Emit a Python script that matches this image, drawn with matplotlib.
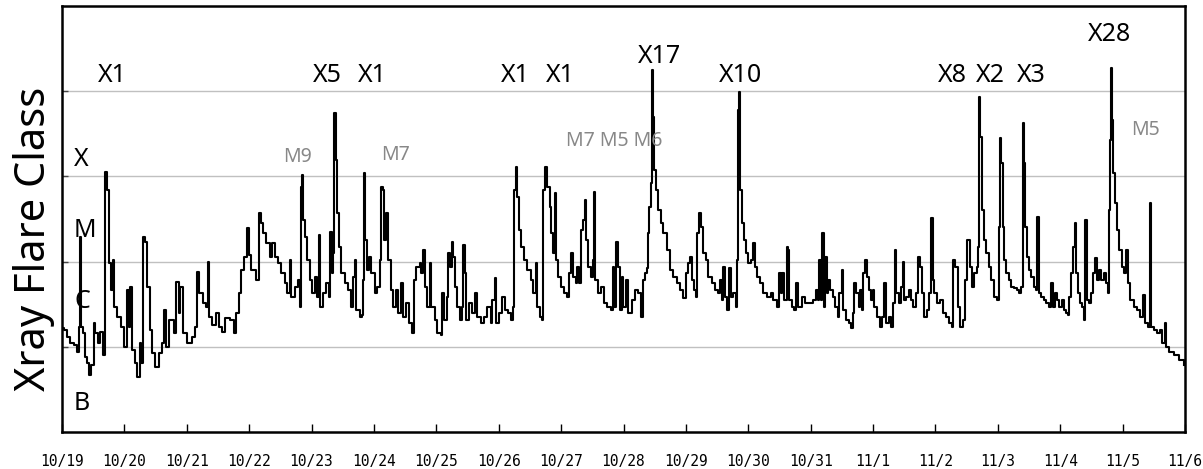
import matplotlib
matplotlib.use("Agg")
import matplotlib.pyplot as plt
import numpy as np

# ---- data: time in days since 10/19 00:00, log10 of X-ray flux (W/m^2) ----
days = [
    0.000, 0.032, 0.080, 0.128, 0.192, 0.240, 0.272, 0.288, 0.304, 0.337,
    0.369, 0.401, 0.433, 0.465, 0.513, 0.529, 0.577, 0.609, 0.657, 0.689,
    0.721, 0.753, 0.785, 0.817, 0.833, 0.881, 0.946, 0.994, 1.042, 1.074,
    1.090, 1.122, 1.170, 1.202, 1.250, 1.266, 1.298, 1.330, 1.362, 1.410,
    1.442, 1.490, 1.554, 1.603, 1.635, 1.667, 1.715, 1.795, 1.827, 1.875,
    1.891, 1.939, 2.003, 2.083, 2.131, 2.163, 2.196, 2.260, 2.308, 2.340,
    2.356, 2.404, 2.468, 2.516, 2.564, 2.612, 2.692, 2.756, 2.788, 2.837,
    2.869, 2.917, 2.965, 2.997, 3.029, 3.061, 3.109, 3.157, 3.189, 3.221,
    3.269, 3.333, 3.365, 3.413, 3.462, 3.510, 3.574, 3.606, 3.654, 3.670,
    3.734, 3.782, 3.814, 3.830, 3.846, 3.862, 3.894, 3.926, 3.974, 4.006,
    4.054, 4.087, 4.119, 4.135, 4.183, 4.231, 4.279, 4.295, 4.327, 4.343,
    4.359, 4.391, 4.407, 4.439, 4.471, 4.535, 4.583, 4.632, 4.664, 4.696,
    4.712, 4.776, 4.808, 4.824, 4.840, 4.856, 4.888, 4.920, 4.952, 5.016,
    5.048, 5.096, 5.112, 5.144, 5.160, 5.192, 5.224, 5.273, 5.305, 5.353,
    5.385, 5.433, 5.465, 5.513, 5.561, 5.609, 5.641, 5.673, 5.737, 5.753,
    5.785, 5.817, 5.849, 5.897, 5.913, 5.978, 6.010, 6.074, 6.090, 6.122,
    6.170, 6.186, 6.218, 6.250, 6.266, 6.298, 6.330, 6.378, 6.410, 6.426,
    6.458, 6.474, 6.522, 6.571, 6.619, 6.651, 6.715, 6.763, 6.811, 6.875,
    6.891, 6.939, 6.955, 7.003, 7.051, 7.099, 7.148, 7.196, 7.228, 7.244,
    7.276, 7.292, 7.324, 7.356, 7.404, 7.452, 7.516, 7.548, 7.596, 7.612,
    7.660, 7.692, 7.708, 7.740, 7.773, 7.821, 7.837, 7.869, 7.901, 7.917,
    7.949, 7.997, 8.045, 8.093, 8.125, 8.157, 8.189, 8.237, 8.253, 8.285,
    8.317, 8.349, 8.381, 8.398, 8.430, 8.478, 8.510, 8.526, 8.542, 8.590,
    8.638, 8.686, 8.734, 8.798, 8.830, 8.846, 8.878, 8.910, 8.942, 8.974,
    8.990, 9.038, 9.071, 9.135, 9.183, 9.231, 9.279, 9.311, 9.343, 9.375,
    9.391, 9.407, 9.439, 9.455, 9.471, 9.487, 9.519, 9.551, 9.600, 9.632,
    9.696, 9.744, 9.792, 9.856, 9.904, 9.952, 10.000, 10.032, 10.064, 10.096,
    10.128, 10.160, 10.176, 10.208, 10.240, 10.272, 10.321, 10.353, 10.417, 10.465,
    10.513, 10.545, 10.577, 10.593, 10.625, 10.657, 10.689, 10.721, 10.753, 10.801,
    10.818, 10.834, 10.850, 10.866, 10.898, 10.930, 10.962, 10.994, 11.042, 11.074,
    11.106, 11.138, 11.186, 11.234, 11.298, 11.362, 11.394, 11.458, 11.491, 11.523,
    11.539, 11.571, 11.619, 11.635, 11.651, 11.699, 11.731, 11.763, 11.795, 11.859,
    11.907, 11.971, 12.036, 12.084, 12.116, 12.132, 12.164, 12.180, 12.212, 12.228,
    12.260, 12.276, 12.308, 12.356, 12.388, 12.436, 12.452, 12.500, 12.516, 12.564,
    12.612, 12.644, 12.676, 12.693, 12.725, 12.773, 12.789, 12.821, 12.837, 12.869,
    12.901, 12.933, 12.965, 12.997, 13.013, 13.061, 13.109, 13.141, 13.173, 13.205,
    13.253, 13.285, 13.317, 13.350, 13.366, 13.414, 13.446, 13.478, 13.494, 13.526,
    13.574, 13.606, 13.638, 13.686, 13.718, 13.750, 13.782, 13.814, 13.862, 13.894,
    13.927, 13.959, 13.975, 14.023, 14.071, 14.119, 14.167, 14.215, 14.263, 14.279,
    14.311, 14.359, 14.391, 14.439, 14.471, 14.504, 14.520, 14.552, 14.584, 14.616,
    14.664, 14.680, 14.696, 14.712, 14.744, 14.776, 14.808, 14.856, 14.888, 14.936,
    14.984, 15.016, 15.024, 15.040, 15.056, 15.080, 15.096, 15.128, 15.176, 15.208,
    15.256, 15.304, 15.337, 15.369, 15.401, 15.417, 15.433, 15.465, 15.497, 15.529,
    15.577, 15.609, 15.625, 15.657, 15.689, 15.737, 15.769, 15.817, 15.849, 15.881,
    15.913, 15.946, 15.978, 16.026, 16.058, 16.090, 16.122, 16.138, 16.170, 16.202,
    16.234, 16.250, 16.282, 16.314, 16.346, 16.378, 16.394, 16.426, 16.458, 16.490,
    16.522, 16.554, 16.587, 16.619, 16.651, 16.699, 16.731, 16.763, 16.779, 16.795,
    16.811, 16.827, 16.843, 16.875, 16.907, 16.939, 16.987, 17.019, 17.051, 17.083,
    17.115, 17.179, 17.228, 17.276, 17.324, 17.356, 17.404, 17.436, 17.452, 17.500,
    17.548, 17.596, 17.628, 17.676, 17.692, 17.740, 17.821, 17.901, 17.981,
]

log_flux = [
    -5.78, -5.80, -5.89, -5.96, -5.98, -6.06, -5.77, -4.71, -5.77, -5.84,
    -6.12, -6.19, -6.33, -6.21, -5.72, -5.84, -5.96, -5.83, -6.10, -3.95,
    -4.16, -5.02, -5.33, -4.98, -5.53, -5.65, -5.77, -6.00, -5.33, -5.77,
    -5.30, -6.04, -6.19, -6.35, -5.96, -6.19, -4.71, -4.77, -5.30, -5.80,
    -6.07, -6.24, -6.07, -5.96, -5.57, -6.00, -5.69, -5.84, -5.24, -5.60,
    -5.30, -5.84, -5.96, -5.89, -5.77, -5.12, -5.37, -5.49, -5.53, -5.00,
    -5.65, -5.74, -5.60, -5.77, -5.83, -5.66, -5.69, -5.84, -5.60, -5.37,
    -5.10, -4.95, -4.61, -4.92, -5.10, -5.10, -5.22, -4.43, -4.55, -4.66,
    -4.78, -4.95, -4.78, -4.95, -5.02, -5.13, -5.25, -5.37, -4.98, -5.42,
    -5.30, -5.22, -5.53, -4.12, -3.98, -4.51, -4.71, -4.98, -5.22, -5.37,
    -5.18, -5.42, -4.69, -5.53, -5.37, -5.25, -5.42, -4.65, -5.13, -4.90,
    -3.26, -3.81, -4.43, -4.83, -5.13, -5.25, -5.33, -5.53, -5.18, -4.98,
    -5.57, -5.65, -5.63, -5.22, -3.96, -4.75, -5.10, -4.95, -5.13, -5.37,
    -5.30, -4.98, -4.12, -4.16, -4.75, -4.43, -4.98, -5.33, -5.53, -5.33,
    -5.60, -5.25, -5.65, -5.49, -5.72, -5.84, -5.22, -5.06, -5.02, -5.13,
    -4.86, -5.30, -5.53, -5.02, -5.53, -5.69, -5.84, -5.86, -5.37, -5.69,
    -5.42, -4.90, -5.06, -4.77, -4.95, -5.30, -5.53, -5.69, -5.53, -4.81,
    -5.13, -5.69, -5.49, -5.60, -5.37, -5.65, -5.72, -5.65, -5.53, -5.72,
    -5.45, -5.19, -5.72, -5.60, -5.42, -5.57, -5.60, -5.69, -5.53, -4.16,
    -3.89, -4.24, -4.63, -4.83, -4.98, -5.10, -5.22, -5.37, -5.02, -5.53,
    -5.65, -5.69, -4.16, -3.89, -4.12, -4.36, -4.66, -4.90, -4.19, -4.98,
    -5.18, -5.30, -5.37, -5.42, -5.13, -4.90, -5.18, -5.25, -5.06, -5.25,
    -4.63, -4.51, -4.28, -4.75, -5.06, -5.18, -4.98, -4.18, -5.22, -5.37,
    -5.30, -5.49, -5.53, -5.57, -5.06, -5.53, -4.77, -5.06, -5.57, -5.18,
    -5.53, -5.22, -5.60, -5.45, -5.33, -5.37, -5.65, -5.22, -5.13, -5.08,
    -4.66, -4.36, -4.08, -2.75, -3.30, -3.92, -4.16, -4.39, -4.55, -4.66,
    -4.86, -5.10, -5.18, -5.25, -5.33, -5.43, -5.13, -5.02, -4.95, -5.22,
    -5.33, -5.42, -4.66, -4.43, -4.59, -4.90, -4.98, -5.18, -5.25, -5.33,
    -5.37, -5.22, -5.45, -5.06, -5.42, -5.57, -5.08, -5.42, -5.37, -5.53,
    -4.98, -3.22, -3.01, -4.16, -4.55, -4.75, -4.90, -5.02, -4.98, -4.78,
    -5.06, -5.18, -5.25, -5.37, -5.42, -5.37, -5.45, -5.53, -5.13, -5.37,
    -5.13, -5.45, -4.83, -4.86, -5.45, -5.53, -5.57, -5.25, -5.53, -5.42,
    -5.49, -5.49, -5.45, -5.33, -5.45, -4.98, -5.45, -4.66, -5.53, -4.95,
    -5.37, -5.22, -5.33, -5.42, -5.53, -5.65, -5.37, -5.10, -5.57, -5.69,
    -5.72, -5.78, -5.60, -5.25, -5.37, -5.53, -5.33, -5.57, -5.13, -4.98,
    -5.18, -5.33, -5.45, -5.33, -5.53, -5.65, -5.77, -5.65, -5.25, -5.72,
    -5.65, -5.77, -5.49, -4.86, -5.37, -5.49, -5.30, -5.00, -5.45, -5.42,
    -5.33, -5.45, -5.53, -5.37, -4.95, -5.06, -5.37, -5.65, -5.57, -5.37,
    -4.49, -5.22, -5.37, -5.49, -5.45, -5.60, -5.65, -5.72, -5.77, -4.98,
    -5.06, -5.53, -5.77, -5.69, -5.22, -4.75, -4.75, -5.06, -5.30, -5.13,
    -5.06, -4.83, -3.07, -3.54, -4.39, -4.75, -4.90, -5.06, -5.22, -5.42,
    -5.45, -5.18, -4.59, -3.55, -3.84, -4.59, -4.98, -5.13, -5.22, -5.30,
    -5.31, -5.33, -5.37, -5.30, -3.37, -3.84, -4.59, -4.95, -5.10, -5.18,
    -5.30, -5.33, -4.48, -5.37, -5.42, -5.45, -5.49, -5.53, -5.25, -5.53,
    -5.37, -5.45, -5.53, -5.45, -5.57, -5.60, -5.63, -5.42, -5.13, -4.83,
    -4.55, -5.13, -5.37, -5.49, -5.53, -5.69, -4.51, -5.45, -5.49, -5.37,
    -5.13, -4.96, -5.22, -5.10, -5.22, -5.13, -5.25, -5.37, -4.39, -3.57,
    -2.73, -3.34, -3.96, -4.31, -4.63, -4.86, -5.06, -5.13, -4.86, -5.25,
    -5.45, -5.53, -5.57, -5.65, -5.39, -5.72, -5.77, -4.31, -5.77, -5.80,
    -5.84, -5.80, -5.96, -5.72, -6.00, -6.06, -6.10, -6.15, -6.21,
]

day_labels = ["10/19", "10/20", "10/21", "10/22", "10/23", "10/24", "10/25",
              "10/26", "10/27", "10/28", "10/29", "10/30", "10/31", "11/1",
              "11/2", "11/3", "11/4", "11/5", "11/6"]

class_letters = ["X", "M", "C", "B"]
class_letter_y = [0.624, 0.458, 0.291, 0.052]  # baselines, axes fraction

# major flare labels (black): text, x-center (axes frac), baseline (axes frac)
x_labels = ["X1", "X5", "X1", "X1", "X1", "X17", "X10", "X8", "X2", "X3", "X28"]
x_label_pos = [(0.0445, 0.822), (0.236, 0.822), (0.276, 0.822), (0.404, 0.822),
               (0.444, 0.822), (0.532, 0.866), (0.604, 0.822), (0.793, 0.822),
               (0.827, 0.822), (0.863, 0.822), (0.933, 0.918)]
# minor flare labels (gray)
m_labels = ["M9", "M7", "M7 M5 M6", "M5"]
m_label_pos = [(0.210, 0.634), (0.297, 0.638), (0.492, 0.671), (0.965, 0.697)]

fig = plt.figure(figsize=(12.03, 4.69), dpi=100)
ax = fig.add_axes([62 / 1203, 37 / 469, 1123 / 1203, 426 / 469])

flux = 10.0 ** np.array(log_flux)
ax.plot(days, flux, color="black", lw=1.5, drawstyle="steps-post", zorder=3)

ax.set_yscale("log")
ax.set_ylim(1e-7, 1e-2)
ax.set_xlim(0, 18)

ax.set_yticks([1e-6, 1e-5, 1e-4, 1e-3])
ax.yaxis.set_minor_locator(matplotlib.ticker.NullLocator())
ax.set_yticklabels([])
ax.tick_params(axis="y", direction="in", length=4, width=1, color="#444444")
ax.grid(axis="y", color="#c0c0c0", lw=1.0, zorder=0)

ax.set_xticks(range(len(day_labels)))
ax.set_xticklabels(day_labels, family="DejaVu Sans Mono", fontsize=10.5)
ax.tick_params(axis="x", direction="in", length=6, width=1, pad=16)

for s in ax.spines.values():
    s.set_linewidth(1.8)
    s.set_color("black")

for letter, yb in zip(class_letters, class_letter_y):
    ax.text(0.0107, yb, letter, transform=ax.transAxes, ha="left", va="baseline",
            fontsize=18, family="Noto Sans", color="black")

for t, (xp, yb) in zip(x_labels, x_label_pos):
    ax.text(xp, yb, t, transform=ax.transAxes, ha="center", va="baseline",
            fontsize=18, family="Noto Sans", color="black")

for t, (xp, yb) in zip(m_labels, m_label_pos):
    ax.text(xp, yb, t, transform=ax.transAxes, ha="center", va="baseline",
            fontsize=14, family="Noto Sans", color="#888888")

fig.text(34 / 1203, 1 - 239 / 469, "Xray Flare Class", rotation=90,
         ha="center", va="center", fontsize=30, family="Noto Sans")

fig.savefig("out.png", dpi=100)
